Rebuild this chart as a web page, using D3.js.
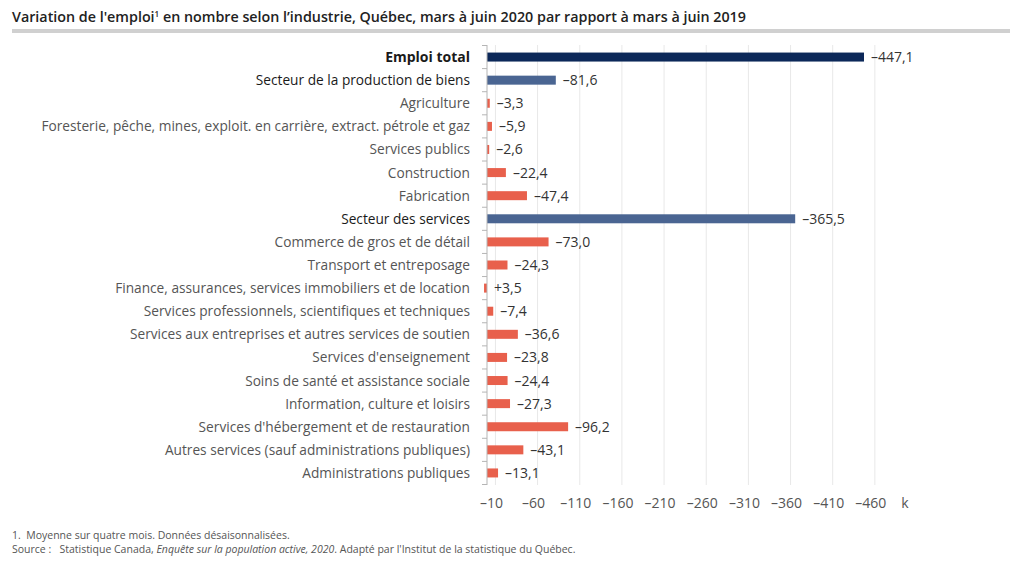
<!DOCTYPE html>
<html>
<head>
<meta charset="utf-8">
<script src="https://cdn.jsdelivr.net/npm/d3@7"></script>
<style>
  body { margin: 0; background: #fff; }
  svg { font-family: "Open Sans", "Noto Sans", sans-serif; }
</style>
</head>
<body>
<script>
  // Categories, top to bottom
  const categories = [
    "Emploi total",
    "Secteur de la production de biens",
    "Agriculture",
    "Foresterie, pêche, mines, exploit. en carrière, extract. pétrole et gaz",
    "Services publics",
    "Construction",
    "Fabrication",
    "Secteur des services",
    "Commerce de gros et de détail",
    "Transport et entreposage",
    "Finance, assurances, services immobiliers et de location",
    "Services professionnels, scientifiques et techniques",
    "Services aux entreprises et autres services de soutien",
    "Services d'enseignement",
    "Soins de santé et assistance sociale",
    "Information, culture et loisirs",
    "Services d'hébergement et de restauration",
    "Autres services (sauf administrations publiques)",
    "Administrations publiques"
  ];
  // Variation, in thousands
  const values = [-447.1, -81.6, -3.3, -5.9, -2.6, -22.4, -47.4, -365.5, -73.0, -24.3,
    3.5, -7.4, -36.6, -23.8, -24.4, -27.3, -96.2, -43.1, -13.1];
  // 0 = total, 1 = sector, 2 = industry
  const levels = [0, 1, 2, 2, 2, 2, 2, 1, 2, 2, 2, 2, 2, 2, 2, 2, 2, 2, 2];
  const tickValues = [-10, -60, -110, -160, -210, -260, -310, -360, -410, -460];

  const width = 1024, height = 570;
  const barColors = ["#0c2859", "#4a6592", "#e8604c"];
  const labelColors = ["#1a1a1a", "#1a1a1a", "#555"];

  const fmt = v => (v > 0 ? "+" : "\u2013") + d3.format(".1f")(Math.abs(v)).replace(".", ",");
  const fmtTick = v => "\u2013" + Math.abs(v);

  const svg = d3.select("body").append("svg")
    .attr("width", width)
    .attr("height", height);

  // Title and rule
  const title = svg.append("text")
    .attr("x", 12).attr("y", 22)
    .attr("font-size", 14.3).attr("font-weight", 600).attr("fill", "#222");
  title.append("tspan").text("Variation de l'emploi");
  title.append("tspan").text("1").attr("font-size", 8).attr("dy", -5);
  title.append("tspan").text(" en nombre selon l’industrie, Québec, mars à juin 2020 par rapport à mars à juin 2019").attr("dy", 5);

  svg.append("rect")
    .attr("x", 12).attr("y", 29)
    .attr("width", 998).attr("height", 4)
    .attr("fill", "#d0d0d0");

  // Scales
  const x = d3.scaleLinear().domain([0, -500]).range([487, 487 + 421.6]);
  const y = d3.scaleBand().domain(categories).range([45.5, 484.5]);
  const barH = 9;

  // Gridlines
  svg.append("g").selectAll("line")
    .data(tickValues)
    .join("line")
    .attr("x1", d => x(d)).attr("x2", d => x(d))
    .attr("y1", 45).attr("y2", 485)
    .attr("stroke", "#e8e8e8");

  // Tick labels
  svg.append("g").selectAll("text")
    .data(tickValues)
    .join("text")
    .attr("x", d => x(d) - 4).attr("y", 508)
    .attr("text-anchor", "middle")
    .attr("font-size", 14).attr("fill", "#555")
    .text(fmtTick);

  svg.append("text")
    .attr("x", 905).attr("y", 508)
    .attr("text-anchor", "middle")
    .attr("font-size", 14).attr("fill", "#555")
    .text("k");

  // Bars
  svg.append("g").selectAll("rect")
    .data(values)
    .join("rect")
    .attr("x", d => Math.min(x(d), x(0)))
    .attr("y", (d, i) => y(categories[i]) + y.bandwidth() / 2 - barH / 2)
    .attr("width", d => Math.abs(x(d) - x(0)))
    .attr("height", barH)
    .attr("fill", (d, i) => barColors[levels[i]]);

  // Value labels
  svg.append("g").selectAll("text")
    .data(values)
    .join("text")
    .attr("x", d => Math.max(x(d), x(0)) + 7)
    .attr("y", (d, i) => y(categories[i]) + y.bandwidth() / 2 + 5)
    .attr("font-size", 14).attr("fill", "#333")
    .text(fmt);

  // Left axis: line and boundary ticks
  const axis = svg.append("g");
  axis.append("line")
    .attr("x1", x(0)).attr("x2", x(0))
    .attr("y1", 45).attr("y2", 485)
    .attr("stroke", "#b5b5b5");
  const bounds = categories.map(c => y(c)).concat([y.range()[1]]);
  axis.selectAll("line.tick")
    .data(bounds)
    .join("line")
    .attr("class", "tick")
    .attr("x1", x(0) - 5).attr("x2", x(0))
    .attr("y1", d => d).attr("y2", d => d)
    .attr("stroke", "#b5b5b5");

  // Category labels
  svg.append("g").selectAll("text")
    .data(categories)
    .join("text")
    .attr("x", 470)
    .attr("y", d => y(d) + y.bandwidth() / 2 + 5)
    .attr("text-anchor", "end")
    .attr("font-size", (d, i) => levels[i] === 0 ? 14 : 13.7)
    .attr("font-weight", (d, i) => levels[i] === 0 ? 700 : 400)
    .attr("fill", (d, i) => labelColors[levels[i]])
    .text(d => d);

  // Notes
  svg.append("text")
    .attr("x", 12).attr("y", 539)
    .attr("font-size", 10.5).attr("fill", "#555")
    .attr("xml:space", "preserve")
    .text("1.  Moyenne sur quatre mois. Données désaisonnalisées.");
  const src = svg.append("text")
    .attr("x", 12).attr("y", 553)
    .attr("font-size", 10.5).attr("fill", "#555")
    .attr("xml:space", "preserve");
  src.append("tspan").text("Source :   Statistique Canada, ");
  src.append("tspan").text("Enquête sur la population active, 2020").attr("font-style", "italic");
  src.append("tspan").text(". Adapté par l'Institut de la statistique du Québec.");
</script>
</body>
</html>
